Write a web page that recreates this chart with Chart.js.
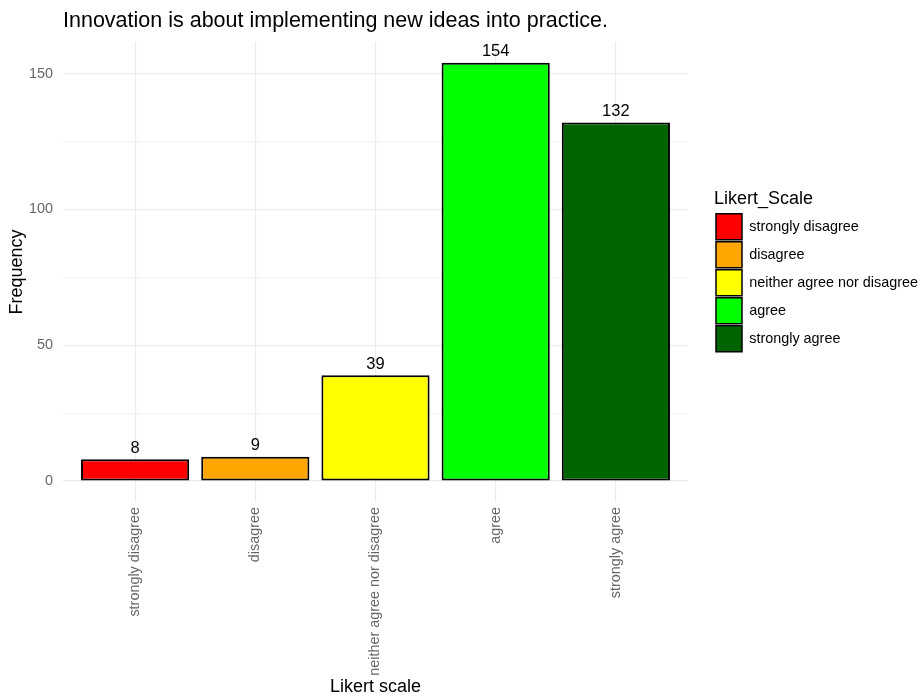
<!DOCTYPE html>
<html>
<head>
<meta charset="utf-8">
<script src="https://cdn.jsdelivr.net/npm/chart.js@4.4.1/dist/chart.umd.min.js"></script>
<style>
  html, body { margin: 0; padding: 0; background: #fff; }
  #wrap { width: 920px; height: 698px; }
</style>
</head>
<body>
<div id="wrap"><canvas id="chart"></canvas></div>
<script>
const categories = ['strongly disagree', 'disagree', 'neither agree nor disagree', 'agree', 'strongly agree'];
const frequency = [8, 9, 39, 154, 132];
const barColors = ['#ff0000', '#ffa500', '#ffff00', '#00ff00', '#006400'];
const yTicks = [0, 25, 50, 75, 100, 125, 150];

const font = 'Liberation Sans, Arial, sans-serif';

// value labels on top of the bars
const barLabels = {
  id: 'barLabels',
  afterDatasetsDraw(chart) {
    const { ctx } = chart;
    const meta = chart.getDatasetMeta(0);
    ctx.save();
    ctx.font = '16.5px ' + font;
    ctx.fillStyle = '#000';
    ctx.textAlign = 'center';
    ctx.textBaseline = 'alphabetic';
    meta.data.forEach((bar, i) => {
      ctx.fillText(String(frequency[i]), bar.x, bar.y - 6.5);
    });
    ctx.restore();
  }
};

new Chart(document.getElementById('chart'), {
  type: 'bar',
  data: {
    datasets: [{
      data: frequency.map((v, i) => ({ x: i + 1, y: v })),
      backgroundColor: barColors,
      borderColor: '#000',
      borderWidth: 2,
      borderSkipped: false,
      barPercentage: 0.9,
      categoryPercentage: 1
    }]
  },
  options: {
    responsive: true,
    maintainAspectRatio: false,
    animation: false,
    layout: { padding: { left: 0, right: -8, top: 0, bottom: 0 } },
    plugins: {
      title: {
        display: true,
        text: 'Innovation is about implementing new ideas into practice.',
        align: 'start',
        fullSize: false,
        color: '#000',
        font: { family: font, size: 21.5, weight: 'normal' },
        padding: { top: 8, bottom: 8 }
      },
      legend: {
        position: 'right',
        fullSize: false,
        maxWidth: 240,
        onClick: null,
        title: {
          display: true,
          text: 'Likert_Scale',
          position: 'start',
          color: '#000',
          font: { family: font, size: 18 },
          padding: { top: 0, bottom: 0 }
        },
        labels: {
          boxWidth: 26,
          boxHeight: 26,
          padding: 2,
          color: '#1a1a1a',
          font: { family: font, size: 14.4 },
          generateLabels: () => categories.map((c, i) => ({
            text: c,
            fillStyle: barColors[i],
            strokeStyle: '#000',
            lineWidth: 1.5,
            hidden: false,
            index: i,
            datasetIndex: 0
          }))
        }
      },
      tooltip: { enabled: false }
    },
    scales: {
      x: {
        type: 'linear',
        min: 0.4,
        max: 5.6,
        offset: false,
        afterBuildTicks: (s) => { s.ticks = categories.map((c, i) => ({ value: i + 1 })); },
        afterFit: (s) => { s.height = 196; },
        border: { display: false },
        grid: { offset: false, color: '#ebebeb', lineWidth: 1.2, drawTicks: false },
        ticks: {
          callback: (v) => categories[v - 1],
          minRotation: 90,
          maxRotation: 90,
          autoSkip: false,
          padding: 5,
          color: '#666',
          font: { family: font, size: 14.4 }
        },
        title: {
          display: true,
          text: 'Likert scale',
          color: '#000',
          font: { family: font, size: 18 },
          padding: { top: 2, bottom: 0 }
        }
      },
      y: {
        min: -7.7,
        max: 161.7,
        afterBuildTicks: (s) => { s.ticks = yTicks.map(v => ({ value: v })); },
        afterFit: (s) => { s.width = 63; },
        border: { display: false },
        grid: {
          color: '#ebebeb',
          lineWidth: (c) => (c.tick && c.tick.value % 50 === 0) ? 1.2 : 0.6,
          drawTicks: false
        },
        ticks: {
          callback: (v) => (v % 50 === 0 ? v : ''),
          padding: 10,
          color: '#666',
          font: { family: font, size: 14.4 }
        },
        title: {
          display: true,
          text: 'Frequency',
          color: '#000',
          font: { family: font, size: 18 },
          padding: { top: 6, bottom: 0 }
        }
      },
      gap: {
        type: 'linear',
        position: 'right',
        display: true,
        border: { display: false },
        grid: { display: false },
        ticks: { display: false },
        afterFit: (s) => { s.width = 26; }
      }
    }
  },
  plugins: [barLabels]
});
</script>
</body>
</html>
